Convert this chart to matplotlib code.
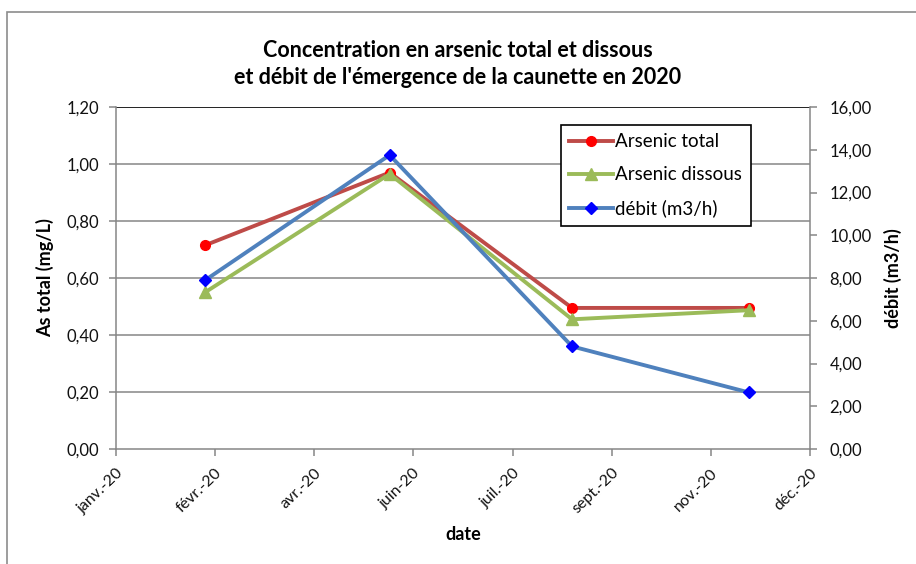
import matplotlib
matplotlib.use("Agg")
import matplotlib.pyplot as plt
import matplotlib.dates as mdates
from matplotlib.ticker import FuncFormatter, FixedLocator
from matplotlib.patches import Rectangle
import datetime as dt

plt.rcParams['font.family'] = ['Lato', 'DejaVu Sans']

# ---- data ----
dates = ["2020-02-22", "2020-05-25", "2020-08-25", "2020-11-22"]
arsenic_total = [0.715, 0.97, 0.495, 0.495]
arsenic_dissous = [0.55, 0.965, 0.455, 0.487]
debit = [7.9, 13.75, 4.8, 2.65]

x_tick_dates = ["2020-01-08", "2020-02-27", "2020-04-17", "2020-06-06",
                "2020-07-26", "2020-09-14", "2020-11-03", "2020-12-23"]
x_tick_labels = ["janv.-20", "févr.-20", "avr.-20", "juin-20",
                 "juil.-20", "sept.-20", "nov.-20", "déc.-20"]
left_ticks = [0.0, 0.2, 0.4, 0.6, 0.8, 1.0, 1.2]
right_ticks = [0, 2, 4, 6, 8, 10, 12, 14, 16]

title = "Concentration en arsenic total et dissous\net débit de l'émergence de la caunette en 2020"

# ---- figure ----
W, H = 916, 564
fig = plt.figure(figsize=(W / 100, H / 100), dpi=100)
fig.patches.append(Rectangle((7 / W, -0.1), 1.2, 1 - 12 / H + 0.1, transform=fig.transFigure,
                             fill=False, edgecolor="#8c8c8c", linewidth=1.2, zorder=0))

ax = fig.add_axes([116 / W, 1 - 449 / H, (810 - 116) / W, (449 - 107) / H])
ax2 = ax.twinx()

xd = [dt.datetime.strptime(d, "%Y-%m-%d") for d in dates]
xt = [mdates.date2num(dt.datetime.strptime(d, "%Y-%m-%d")) for d in x_tick_dates]

grid_c = "#868686"
ax.set_ylim(0, 1.2)
ax2.set_ylim(0, 16)
ax.set_xlim(xt[0], xt[-1])

for v in left_ticks[1:]:
    ax.axhline(v, color=grid_c if v < 1.2 else "#222222", linewidth=1.1 if v < 1.2 else 1.4, zorder=1)

ax.plot(xd, arsenic_total, color="#BE4B48", linewidth=2.8, marker="o", markersize=7,
        markerfacecolor="#FF0000", markeredgecolor="#FF0000", label="Arsenic total", zorder=3)
ax.plot(xd, arsenic_dissous, color="#9BBB59", linewidth=2.8, marker="^", markersize=9,
        markerfacecolor="#9BBB59", markeredgecolor="#9BBB59", label="Arsenic dissous", zorder=4)
ax2.plot(xd, debit, color="#4F81BD", linewidth=2.8, marker="D", markersize=6.5,
         markerfacecolor="#0000FF", markeredgecolor="#0000FF", label="débit (m3/h)", zorder=3)

ax.xaxis.set_major_locator(FixedLocator(xt))
ax.set_xticklabels(x_tick_labels, rotation=44, ha="right", rotation_mode="anchor", fontsize=11.5)
ax.set_yticks(left_ticks)
ax.yaxis.set_major_formatter(FuncFormatter(lambda v, p: f"{v:.2f}".replace(".", ",")))
ax2.set_yticks(right_ticks)
ax2.yaxis.set_major_formatter(FuncFormatter(lambda v, p: f"{v:.2f}".replace(".", ",")))

for a in (ax, ax2):
    for s in a.spines.values():
        s.set_visible(False)
    a.tick_params(axis="both", colors=grid_c, labelcolor="#111111", labelsize=12, length=5, width=1.1)
ax.tick_params(axis="x", labelsize=11.5)
ax.spines["left"].set_visible(True)
ax.spines["left"].set_color(grid_c)
ax.spines["bottom"].set_visible(True)
ax.spines["bottom"].set_color(grid_c)
ax.spines["left"].set_linewidth(1.1)
ax.spines["bottom"].set_linewidth(1.1)
ax2.spines["right"].set_visible(True)
ax2.spines["right"].set_color(grid_c)
ax2.spines["right"].set_linewidth(1.1)
ax.tick_params(axis="y", pad=7)
ax2.tick_params(axis="y", pad=9)
ax.tick_params(axis="x", pad=7)

ax.set_ylabel("As total (mg/L)", fontsize=13, fontweight="bold")
ax2.set_ylabel("débit (m3/h)", fontsize=13, fontweight="bold")
ax.set_xlabel("date", fontsize=13, fontweight="bold")
ax.yaxis.set_label_coords((54 - 116) / 694, 0.5)
ax2.yaxis.set_label_coords((884 - 116) / 694, 0.5)
ax.xaxis.set_label_coords(0.5, (449 - 526) / 342)

fig.text(0.5, 1 - 64 / H, title, ha="center", va="center", fontsize=15.5, fontweight="bold",
         linespacing=1.4)

h1, l1 = ax.get_legend_handles_labels()
h2, l2 = ax2.get_legend_handles_labels()
leg = ax2.legend(h1 + h2, l1 + l2, loc="upper left",
                 bbox_to_anchor=((561 - 116) / (810 - 116), 1 - (125 - 107) / (449 - 107)),
                 fontsize=13.5, frameon=True, fancybox=False, edgecolor="black", framealpha=1,
                 handlelength=2.3, handletextpad=0.15, borderpad=0.45, labelspacing=0.85,
                 borderaxespad=0)
leg.get_frame().set_linewidth(1.2)

fig.savefig("out.png", dpi=100)
